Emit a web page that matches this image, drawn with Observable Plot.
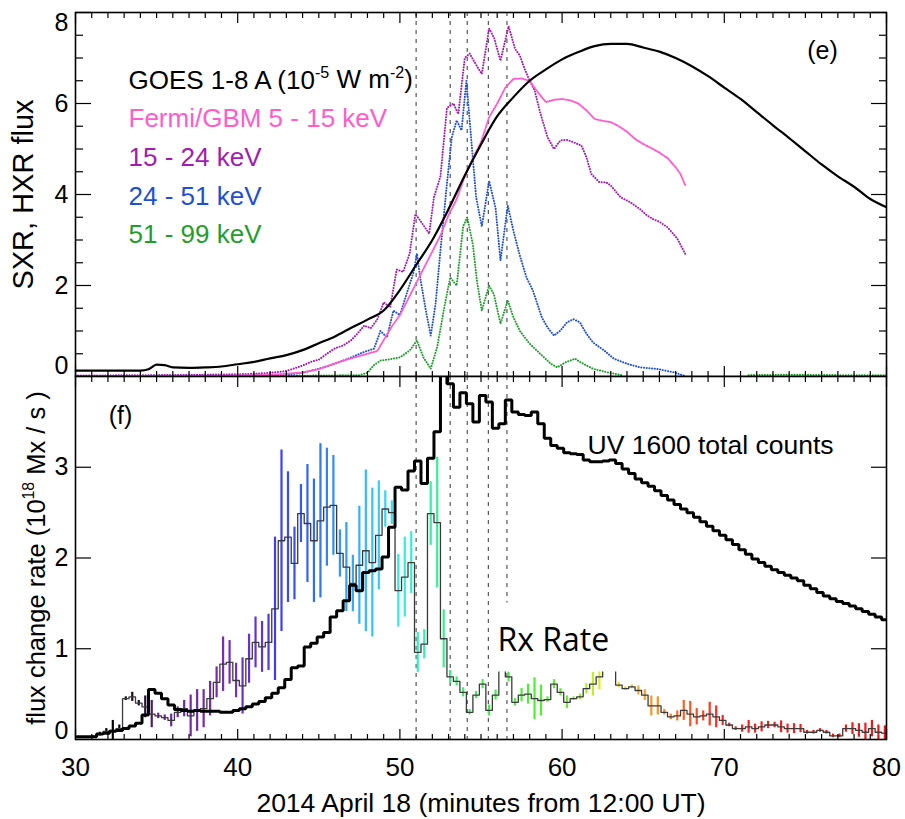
<!DOCTYPE html>
<html><head><meta charset="utf-8">
<script src="https://cdn.jsdelivr.net/npm/d3@7"></script>
<script src="https://cdn.jsdelivr.net/npm/@observablehq/plot@0.6"></script>
<style>
body{margin:0;background:#fff;}
#chart{position:relative;width:905px;height:819px;background:#fff;}
#chart svg{position:absolute;left:0;}
</style></head><body><div id="chart"></div>
<script>
// ---------------- DATA ----------------
// flare sub-peaks (dashed lines), minutes after 12:00 UT
const flareTimes = [51.0, 53.1, 54.15, 55.45, 56.6];

// GOES 1-8 A (1e-5 W m^-2)
const goesTime = [30,31,32,33,34,34.5,35,35.5,36,37,38,39,40,41,42,43,44,45,46,47,48,49,50,51,52,53,54,55,56,57,58,59,60,61,62,63,64,65,66,67,68,69,70,71,72,73,74,75,76,77,78,79,80];
const goesFlux = [0.13,0.13,0.13,0.13,0.13,0.16,0.26,0.25,0.20,0.19,0.20,0.22,0.27,0.32,0.40,0.47,0.58,0.73,0.88,1.07,1.25,1.45,1.9,2.45,3.0,3.68,4.42,5.1,5.72,6.14,6.5,6.75,6.97,7.13,7.26,7.31,7.31,7.23,7.14,7.0,6.82,6.6,6.35,6.1,5.81,5.52,5.24,4.95,4.66,4.4,4.17,3.9,3.72];

// Fermi/GBM 5-15 keV
const gbm1Time = [30,32,34,36,38,40,41,42,43,44,45,46,47,48,48.6,49,49.5,50,50.5,51,51.5,52,52.5,53,53.5,54,54.5,55,55.5,56,56.5,57,57.5,58,58.5,59,59.5,60,60.5,61,61.5,62,62.5,63,63.5,64,64.5,65,65.5,66,66.5,67,67.3,67.6];
const gbm1Flux = [0.0,0.0,0.01,0.01,0.01,0.02,0.03,0.04,0.06,0.09,0.16,0.29,0.40,0.50,0.56,0.8,1.1,1.35,1.7,2.05,2.4,2.75,3.1,3.55,3.9,4.4,4.8,5.15,5.7,6.0,6.35,6.54,6.55,6.5,6.25,6.03,6.08,6.1,6.07,6.0,5.85,5.66,5.62,5.59,5.5,5.38,5.22,5.11,5.02,4.92,4.8,4.6,4.45,4.2];

// 15-24 keV
const gbm2Time = [30,35,38,40,41,42,43,43.5,44,44.5,45,45.5,46,46.5,47,47.4,47.8,48.2,48.6,49.0,49.4,49.8,50.2,50.6,50.95,51.25,51.5,51.8,52.1,52.5,52.9,53.3,53.6,54.0,54.3,54.7,55.05,55.5,55.8,56.2,56.7,57.1,57.4,57.7,58.0,58.3,58.65,59.1,59.5,59.9,60.3,60.7,61.2,61.5,61.8,62.3,62.7,63.0,63.6,64.2,64.8,65.2,65.6,66.0,66.5,67.1,67.6];
const gbm2Flux = [0.02,0.03,0.04,0.05,0.06,0.08,0.12,0.18,0.24,0.32,0.37,0.5,0.62,0.68,0.8,0.95,1.12,1.06,1.25,1.63,1.52,2.35,2.3,2.7,3.57,3.43,3.3,3.14,3.94,4.4,5.9,6.0,5.77,7.0,7.1,6.85,6.65,7.65,7.45,6.94,7.7,7.2,7.05,6.75,6.5,6.3,5.8,5.26,5.0,5.19,5.2,5.15,5.07,4.82,4.45,4.27,4.27,4.2,3.94,3.83,3.68,3.55,3.46,3.4,3.28,3.03,2.69];

// 24-51 keV
const gbm3Time = [30,40,43,44,45,46,47,47.8,48.4,48.8,49.2,49.6,50.0,50.4,50.85,51.05,51.25,51.6,51.9,52.2,52.5,52.9,53.2,53.5,53.8,54.1,54.4,54.7,55.05,55.5,55.9,56.2,56.65,57.0,57.4,57.8,58.2,58.75,59.1,59.5,59.9,60.3,60.7,61.1,61.5,61.9,62.6,63.2,64.0,64.8,65.8,66.9,67.5];
const gbm3Flux = [0.01,0.03,0.04,0.08,0.17,0.28,0.42,0.54,0.61,1.0,0.86,1.45,1.35,1.8,2.3,2.7,2.18,1.45,0.9,1.6,2.77,4.24,5.26,5.63,5.41,6.5,5.2,3.94,3.3,4.3,3.7,2.55,3.76,3.2,2.65,2.18,1.89,1.3,1.08,0.9,1.01,1.19,1.26,1.19,0.94,0.75,0.57,0.39,0.28,0.2,0.17,0.09,0.02];

// 51-99 keV (null = data gap)
const gbm4Time = [30,40,45,47.5,48.0,48.4,48.8,49.4,50.0,50.6,51.05,51.45,51.9,52.3,52.7,53.1,53.5,53.9,54.15,54.5,54.75,55.05,55.5,55.8,56.2,56.65,57.0,57.4,58.0,58.65,59.3,59.7,60.2,60.8,61.3,61.9,62.8,63.8,66,71.5,74,77,80];
const gbm4Flux = [0.0,0.01,0.02,0.03,0.08,0.25,0.35,0.38,0.42,0.57,0.79,0.42,0.17,0.65,1.45,2.18,2.0,3.3,3.5,2.9,2.1,1.45,2.0,1.8,1.16,1.67,1.3,1.0,0.72,0.5,0.28,0.2,0.31,0.39,0.28,0.17,0.09,0.02,null,0.03,0.04,0.03,0.03];

// 24 s (0.4 min) bins starting at 30.1 min
const binStart = 30.1, binWidth = 0.4;
// UV 1600 total counts (scaled to panel f)
const uvTotal = [0.03,0.03,0.03,0.06,0.07,0.09,0.10,0.12,0.15,0.18,
 0.27,0.55,0.51,0.45,0.38,0.33,0.32,0.31,0.32,0.31,
 0.31,0.31,0.30,0.30,0.32,0.34,0.36,0.39,0.42,0.46,
 0.51,0.57,0.66,0.79,0.81,1.02,1.06,1.13,1.18,1.35,
 1.42,1.53,1.70,1.64,1.84,1.86,1.88,2.01,2.34,2.78,
 2.75,2.96,3.07,2.82,3.10,3.39,4.30,3.92,3.66,3.82,
 3.70,3.50,3.79,3.72,3.43,3.48,3.74,3.61,3.58,3.57,
 3.61,3.48,3.32,3.24,3.21,3.16,3.15,3.14,3.08,3.06,
 3.06,3.07,3.08,3.04,2.98,2.93,2.87,2.83,2.79,2.74,
 2.69,2.64,2.59,2.54,2.50,2.45,2.40,2.35,2.30,2.25,
 2.20,2.15,2.09,2.04,1.99,1.95,1.91,1.87,1.84,1.81,
 1.78,1.75,1.70,1.66,1.62,1.58,1.55,1.52,1.50,1.47,
 1.44,1.41,1.38,1.35,1.32];
// reconnection (flux change) rate, 1e18 Mx/s
const rxRate = [0.02,0.02,0.03,0.06,0.09,0.10,0.12,0.45,0.47,0.40,
 0.36,0.28,0.26,0.24,0.21,0.30,0.34,0.26,0.32,0.34,
 0.45,0.63,0.83,0.85,0.65,0.59,0.89,1.07,1.02,1.07,
 1.44,2.19,2.23,1.94,2.49,2.38,2.19,2.41,2.56,2.58,
 2.05,1.90,1.72,1.92,2.08,1.95,2.25,2.54,2.50,1.64,
 1.79,1.95,0.96,1.05,2.49,2.39,1.11,0.69,0.64,0.52,
 0.30,0.49,0.61,0.32,0.49,0.85,0.69,0.41,0.49,0.50,
 0.45,0.43,0.44,0.61,0.52,0.41,0.45,0.47,0.56,0.61,
 0.69,0.90,0.90,0.60,0.56,0.58,0.54,0.49,0.37,0.37,
 0.30,0.25,0.26,0.32,0.28,0.25,0.26,0.28,0.25,0.21,
 0.16,0.12,0.12,0.14,0.12,0.14,0.16,0.16,0.14,0.12,
 0.12,0.12,0.08,0.08,0.10,0.08,0.04,0.04,0.12,0.12,
 0.10,0.08,0.12,0.08,0.07];
// half-length of the error bars
const rxErr = [0,0,0.01,0.02,0.03,0.11,0.04,0.02,0.05,0.03,
 0.12,0.15,0.03,0.03,0.07,0.06,0.09,0.23,0.23,0.21,
 0.19,0.17,0.30,0.24,0.19,0.31,0.27,0.28,0.28,0.31,
 0.79,1.0,0.72,0.40,0.32,0.65,0.68,0.85,0.65,0.55,
 0.26,0.49,0.31,0.65,0.89,0.82,0.60,0.20,0.13,0.40,
 0.44,0.34,0.22,0.16,0.35,0.72,0.32,0.07,0.05,0.05,
 0.03,0.04,0.05,0.06,0.055,0.05,0.055,0.04,0.073,0.11,
 0.23,0.17,0.03,0.05,0.04,0.07,0.02,0.03,0.055,0.13,
 0.14,0.10,0.10,0.03,0.02,0.02,0.05,0.06,0.11,0.10,
 0.03,0.03,0.055,0.11,0.14,0.09,0.055,0.13,0.12,0.055,
 0.02,0.02,0.04,0.07,0.05,0.055,0.04,0.03,0.065,0.05,
 0.055,0.045,0.02,0.02,0.02,0.02,0.02,0.02,0.04,0.065,
 0.075,0.10,0.09,0.08,0.08];

// tick values
const xMajor = [30, 40, 50, 60, 70, 80];
const xMinor = d3.range(31, 80).filter(d => d % 10 !== 0);
const yTopMajor = [0, 2, 4, 6, 8];
const yTopMinor = d3.range(0.5, 8, 0.5).filter(d => d % 2 !== 0);
const yBotMajor = [1, 2, 3];

// texts
const legendLabels = ["GOES 1-8 A (10^{-5} W m^{-2})", "Fermi/GBM 5 - 15 keV", "15 - 24 keV", "24 - 51 keV", "51 - 99 keV"];
const topYTitle = "SXR, HXR flux";
const botYTitle = "flux change rate (10^{18} Mx / s )";
const xTitle = "2014 April 18 (minutes from 12:00 UT)";

// ---------------- STYLE ----------------
const FONT = "'Liberation Sans', Arial, Helvetica, sans-serif";
const C = {goes: "#000000", gbm1: "#ff5ccd", gbm2: "#a21cb2", gbm3: "#1f50d0", gbm4: "#1f9e2c"};
const legendColors = [C.goes, C.gbm1, C.gbm2, C.gbm3, C.gbm4];
const rxColorStops = [32, 34.3, 35, 39, 41, 42.5, 44.5, 46.5, 48.5, 50, 51.5, 53, 56, 60, 61.5, 62.5, 63.5, 65, 66.5, 68, 70, 80];
const rxColors = ["#000000", "#2a0a3a", "#6b2396", "#7a2cb0", "#6530d8", "#3a3cff", "#2f66ff", "#2f9cff", "#30c8ff", "#30ecec", "#30f0b4", "#38f080", "#40f040", "#58f028", "#a8f020", "#e0f020", "#f8d820", "#ffa020", "#ff8020", "#ff5020", "#ff2020", "#ff1010"];

// ---------------- BUILD ----------------
const zip = (T, V) => T.map((t, i) => ({t, v: V[i]}));
const stepData = vals => vals.map((v, i) => ({t: binStart + i * binWidth, v}))
  .concat([{t: binStart + vals.length * binWidth, v: vals[vals.length - 1]}]);
const rxBins = rxRate.map((v, i) => ({c: binStart + (i + 0.5) * binWidth, lo: v - rxErr[i], hi: v + rxErr[i]}));

const none = () => "";
const plain = d => String(d);
function panelAxes({yMajor, yMinor, yLabelSets, xLabels}) {
  const m = [];
  for (const anchor of ["top", "bottom"]) {
    m.push(Plot.axisX({anchor, ticks: xMajor, tickSize: -10, tickFormat: none, label: null, strokeWidth: 1.2}));
    m.push(Plot.axisX({anchor, ticks: xMinor, tickSize: -5, tickFormat: none, label: null, strokeWidth: 1.2}));
  }
  for (const anchor of ["left", "right"]) {
    m.push(Plot.axisY({anchor, ticks: yMajor, tickSize: -16, tickFormat: none, label: null, strokeWidth: 1.2}));
    if (yMinor.length) m.push(Plot.axisY({anchor, ticks: yMinor, tickSize: -8, tickFormat: none, label: null, strokeWidth: 1.2}));
  }
  for (const {ticks, dy} of yLabelSets)
    m.push(Plot.axisY({anchor: "left", ticks, tickSize: 0, tickPadding: 7, dy, fontSize: 25, tickFormat: plain, label: null}));
  if (xLabels) m.push(Plot.axisX({anchor: "bottom", ticks: xMajor, tickSize: 0, tickPadding: 18, fontSize: 26, tickFormat: plain, label: null}));
  return m;
}
const dashed = {stroke: "#333", strokeWidth: 1, strokeDasharray: "4,5"};
const dotted = (T, V, color, gap) => Plot.line(zip(T, V), {x: "t", y: "v", stroke: color, strokeWidth: 2, strokeDasharray: `0.1,${gap}`, strokeLinecap: "round", clip: true});

const topPlot = Plot.plot({
  width: 905, height: 377, marginLeft: 75, marginRight: 19, marginTop: 12, marginBottom: 1,
  style: {fontFamily: FONT, fontSize: "26px", background: "transparent", color: "black"},
  x: {domain: [30, 80]},
  y: {domain: [0, 8]},
  marks: [
    Plot.ruleX(flareTimes, dashed),
    dotted(gbm4Time, gbm4Flux, C.gbm4, 2.6),
    dotted(gbm3Time, gbm3Flux, C.gbm3, 2.6),
    dotted(gbm2Time, gbm2Flux, C.gbm2, 2.6),
    dotted(gbm1Time, gbm1Flux, C.gbm1, 1.6),
    Plot.line(zip(goesTime, goesFlux), {x: "t", y: "v", stroke: C.goes, strokeWidth: 2.2, curve: "monotone-x", clip: true}),
    ...panelAxes({yMajor: yTopMajor, yMinor: yTopMinor,
      yLabelSets: [{ticks: [2, 4, 6], dy: 0}, {ticks: [8], dy: 10}, {ticks: [0], dy: -11}], xLabels: false}),
    ...legendLabels.map((label, i) => Plot.text([label], {frameAnchor: "top-left", dx: 53, dy: 76 + i * 38.7,
      lineAnchor: "bottom", textAnchor: "start", fill: legendColors[i], fontSize: 26})),
    Plot.text(["(e)"], {frameAnchor: "top-right", dx: -64, dy: 46, lineAnchor: "bottom", textAnchor: "middle", fontSize: 25}),
    Plot.text([topYTitle], {frameAnchor: "left", dx: -52, rotate: -90, lineAnchor: "middle", textAnchor: "middle", fontSize: 29}),
    Plot.frame({stroke: "black", strokeWidth: 1.6})
  ]
});

const botPlot = Plot.plot({
  width: 905, height: 443, marginLeft: 75, marginRight: 19, marginTop: 0, marginBottom: 80,
  style: {fontFamily: FONT, fontSize: "26px", background: "transparent", color: "black", overflow: "visible"},
  x: {domain: [30, 80]},
  y: {domain: [0, 4]},
  color: {type: "linear", domain: rxColorStops, range: rxColors, interpolate: "rgb"},
  marks: [
    Plot.ruleX(flareTimes, dashed),
    Plot.ruleX(rxBins, {x: "c", y1: "lo", y2: "hi", stroke: "c", strokeWidth: 2.2, clip: true}),
    Plot.line(stepData(rxRate), {x: "t", y: "v", curve: "step-after", stroke: "#3a3a3a", strokeWidth: 1.3, clip: true}),
    Plot.line(stepData(uvTotal), {x: "t", y: "v", curve: "step-after", stroke: "black", strokeWidth: 3, strokeLinejoin: "miter", clip: true}),
    ...panelAxes({yMajor: yBotMajor, yMinor: [],
      yLabelSets: [{ticks: [1, 2, 3], dy: 0}, {ticks: [0], dy: -9}], xLabels: true}),
    Plot.text(["(f)"], {frameAnchor: "top-left", dx: 45, dy: 47, lineAnchor: "bottom", textAnchor: "middle", fontSize: 25}),
    Plot.text(["UV 1600 total counts"], {frameAnchor: "top-left", dx: 512, dy: 77, lineAnchor: "bottom", textAnchor: "start", fontSize: 26.5}),
    Plot.text(["Rx Rate"], {frameAnchor: "top-left", dx: 422, dy: 274, lineAnchor: "bottom", textAnchor: "start", fontSize: 32, fontFamily: "'Open Sans', 'Noto Sans', sans-serif"}),
    Plot.text([xTitle], {frameAnchor: "bottom", dy: 64, lineAnchor: "middle", textAnchor: "middle", fontSize: 26.5}),
    Plot.text([botYTitle], {frameAnchor: "left", dx: -39, rotate: -90, lineAnchor: "middle", textAnchor: "middle", fontSize: 25.5}),
    Plot.frame({stroke: "black", strokeWidth: 1.6})
  ]
});

// superscripts written as ^{...}
function supify(root) {
  for (const el of root.querySelectorAll("text")) {
    if (el.children.length) continue;
    const s = el.textContent;
    if (!s.includes("^{")) continue;
    el.textContent = "";
    let raised = false;
    for (const part of s.split(/(\^\{[^}]*\})/)) {
      if (!part) continue;
      const ts = document.createElementNS("http://www.w3.org/2000/svg", "tspan");
      if (part.startsWith("^{")) {
        ts.textContent = part.slice(2, -1);
        ts.setAttribute("font-size", "62%");
        ts.setAttribute("dy", "-0.65em");
        raised = true;
      } else {
        ts.textContent = part;
        if (raised) { ts.setAttribute("dy", "0.4em"); raised = false; }
      }
      el.appendChild(ts);
    }
  }
}

const chart = document.getElementById("chart");
topPlot.style.top = "0px";
botPlot.style.top = "376px";
chart.appendChild(topPlot);
chart.appendChild(botPlot);
supify(topPlot); supify(botPlot);

// white box behind the "Rx Rate" label (sized from the label itself)
const rxText = [...botPlot.querySelectorAll("text")].find(t => t.textContent === "Rx Rate");
if (rxText) {
  const sb = botPlot.getBoundingClientRect(), tb = rxText.getBoundingClientRect();
  const r = document.createElementNS("http://www.w3.org/2000/svg", "rect");
  r.setAttribute("x", tb.left - sb.left - 6);
  r.setAttribute("y", tb.top - sb.top - 14);
  r.setAttribute("width", tb.width + 24);
  r.setAttribute("height", tb.height + 26);
  r.setAttribute("fill", "white");
  botPlot.insertBefore(r, rxText.parentNode);
}
</script></body></html>
